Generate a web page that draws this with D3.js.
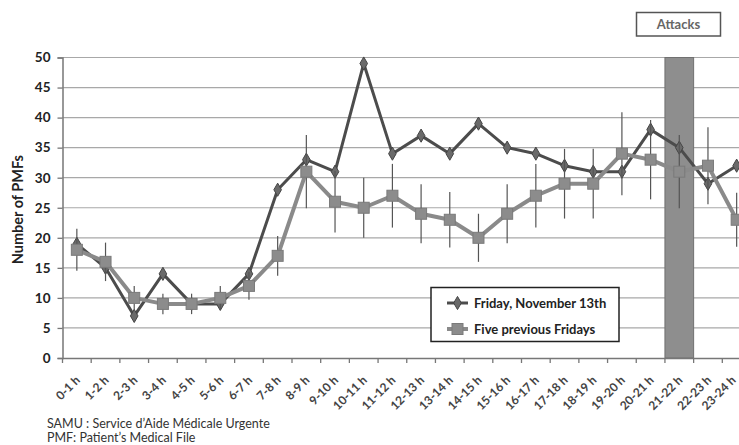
<!DOCTYPE html>
<html><head><meta charset="utf-8">
<script src="https://cdn.jsdelivr.net/npm/d3@7"></script>
<style>
body{margin:0;background:#fff;}
svg{display:block;}
text{font-family:Lato,"Open Sans",sans-serif;}
</style></head>
<body>
<svg id="c" width="739" height="445"></svg>
<script>
const categories = ["0-1 h","1-2 h","2-3 h","3-4 h","4-5 h","5-6 h","6-7 h","7-8 h","8-9 h","9-10 h","10-11 h","11-12 h","12-13 h","13-14 h","14-15 h","15-16 h","16-17 h","17-18 h","18-19 h","19-20 h","20-21 h","21-22 h","22-23 h","23-24 h"];
const friday13 = [19,15,7,14,9,9,14,28,33,31,49,34,37,34,39,35,34,32,31,31,38,35,29,32];
const previousFridays = [18,16,10,9,9,10,12,17,31,26,25,27,24,23,20,24,27,29,29,34,33,31,32,23];
const previousError = [3.5,3.2,2,1.7,1.7,2,2.3,3.3,6.1,5.1,5,5.3,4.9,4.6,4,4.9,5.3,5.8,5.8,6.9,6.6,6.1,6.4,4.5];
const yTicks = [0,5,10,15,20,25,30,35,40,45,50];
const attackCategory = "21-22 h";
const seriesNames = ["Friday, November 13th","Five previous Fridays"];
const footnotes = ["SAMU : Service d\u2019Aide Médicale Urgente","PMF: Patient\u2019s Medical File"];

const svg = d3.select("#c");
const W = 739;
const L = 62.5, R = 751, T = 57.5, B = 358;
const x = d3.scaleBand().domain(categories).range([L, R]);
const y = d3.scaleLinear().domain([0, 50]).range([B, T]);
const cx = d => x(d) + x.bandwidth()/2;

// gridlines
svg.append("g").selectAll("line").data(yTicks.filter(d=>d>0)).join("line")
  .attr("x1", L).attr("x2", W).attr("y1", d=>y(d)).attr("y2", d=>y(d))
  .attr("stroke", "#a8a8a8").attr("stroke-width", 1.2);

// attack band
svg.append("rect").attr("x", x(attackCategory)).attr("width", x.bandwidth())
  .attr("y", y(50)).attr("height", y(0)-y(50))
  .attr("fill", "#8e8e8e").attr("stroke", "#707070").attr("stroke-width", 1);

// axes
const yAxis = svg.append("g").attr("transform", `translate(${L},0)`)
  .call(d3.axisLeft(y).tickValues(yTicks).tickSize(5).tickPadding(7).tickFormat(d3.format("d")));
yAxis.select(".domain").attr("stroke", "#777").attr("stroke-width", 1.5);
yAxis.selectAll(".tick line").attr("stroke", "#777").attr("stroke-width", 1.3);
yAxis.selectAll(".tick text").attr("font-size", 13.5).attr("font-weight", 700).attr("fill", "#222")
  .attr("font-family", "Lato, sans-serif");

const xAxis = svg.append("g").attr("transform", `translate(0,${B})`)
  .call(d3.axisBottom(x).tickSize(0).tickFormat(""));
xAxis.select(".domain").attr("stroke", "#777").attr("stroke-width", 1.5);
// boundary ticks
svg.append("g").selectAll("line").data(categories).join("line")
  .attr("x1", d=>x(d)).attr("x2", d=>x(d)).attr("y1", B).attr("y2", B+5)
  .attr("stroke", "#777").attr("stroke-width", 1.3);
svg.append("g").selectAll("text").data(categories).join("text")
  .attr("transform", d=>`translate(${Math.min(cx(d)+4, W-2.5)},${B+23}) rotate(-45)`)
  .attr("text-anchor", "end")
  .attr("font-size", 12).attr("font-weight", 700).attr("fill", "#444")
  .text(d=>d);

// y label
svg.append("text").attr("transform", `translate(23,${(T+B)/2 + 2}) rotate(-90)`)
  .attr("text-anchor", "middle").attr("font-size", 14.5).attr("font-weight", 700).attr("fill", "#222")
  .text("Number of PMFs");

// Friday 13 line
const line = d3.line().x((d,i)=>cx(categories[i])).y(d=>y(d));
svg.append("path").datum(friday13).attr("d", line).attr("fill", "none")
  .attr("stroke", "#4c4c4c").attr("stroke-width", 3).attr("stroke-linejoin", "round");
const diamond = d3.symbol().type(d3.symbolDiamond).size(50);
svg.append("g").selectAll("path").data(friday13).join("path")
  .attr("d", diamond).attr("transform", (d,i)=>`translate(${cx(categories[i])},${y(d)})`)
  .attr("fill", "#6a6a6a").attr("stroke", "#444").attr("stroke-width", 1);

// error bars for previous
svg.append("g").selectAll("line").data(previousFridays).join("line")
  .attr("x1", (d,i)=>cx(categories[i])).attr("x2", (d,i)=>cx(categories[i]))
  .attr("y1", (d,i)=>y(d-previousError[i])).attr("y2", (d,i)=>y(d+previousError[i]))
  .attr("stroke", "#555").attr("stroke-width", 1.2);

// previous line
svg.append("path").datum(previousFridays).attr("d", line).attr("fill", "none")
  .attr("stroke", "#8a8a8a").attr("stroke-width", 4).attr("stroke-linejoin", "round");
svg.append("g").selectAll("rect").data(previousFridays).join("rect")
  .attr("x", (d,i)=>cx(categories[i])-5.5).attr("y", d=>y(d)-5.5)
  .attr("width", 11).attr("height", 11)
  .attr("fill", "#8c8c8c").attr("stroke", "#7a7a7a").attr("stroke-width", 1);

// legend
const lg = svg.append("g");
lg.append("rect").attr("x", 431).attr("y", 287.5).attr("width", 188).attr("height", 54)
  .attr("fill", "#fff").attr("stroke", "#222").attr("stroke-width", 1.5);
const legendY = [303, 329];
lg.append("line").attr("x1", 447).attr("x2", 468).attr("y1", legendY[0]).attr("y2", legendY[0])
  .attr("stroke", "#4c4c4c").attr("stroke-width", 3);
lg.append("path").attr("d", diamond).attr("transform", `translate(457.5,${legendY[0]})`)
  .attr("fill", "#6a6a6a").attr("stroke", "#444");
lg.append("line").attr("x1", 447).attr("x2", 468).attr("y1", legendY[1]).attr("y2", legendY[1])
  .attr("stroke", "#8a8a8a").attr("stroke-width", 4);
lg.append("rect").attr("x", 452).attr("y", legendY[1]-5.5).attr("width", 11).attr("height", 11)
  .attr("fill", "#8c8c8c").attr("stroke", "#7a7a7a");
lg.selectAll("text.lt").data(seriesNames).join("text").attr("class","lt")
  .attr("x", 474).attr("y", (d,i)=>legendY[i]).attr("dy", "0.35em")
  .attr("font-size", 13).attr("font-weight", 700).attr("fill", "#222").text(d=>d);

// attacks box
svg.append("rect").attr("x", 636.5).attr("y", 12.5).attr("width", 84).attr("height", 23.5)
  .attr("fill", "#fff").attr("stroke", "#555").attr("stroke-width", 1.5);
svg.append("text").attr("x", 678.5).attr("y", 24.5).attr("dy", "0.35em").attr("text-anchor", "middle")
  .attr("font-size", 13).attr("font-weight", 700).attr("fill", "#666").text("Attacks");

// footnotes
svg.append("g").selectAll("text").data(footnotes).join("text")
  .attr("x", 47).attr("y", (d,i)=>428 + i*14)
  .attr("font-size", 12.5).attr("fill", "#333").text(d=>d);
</script>
</body></html>
